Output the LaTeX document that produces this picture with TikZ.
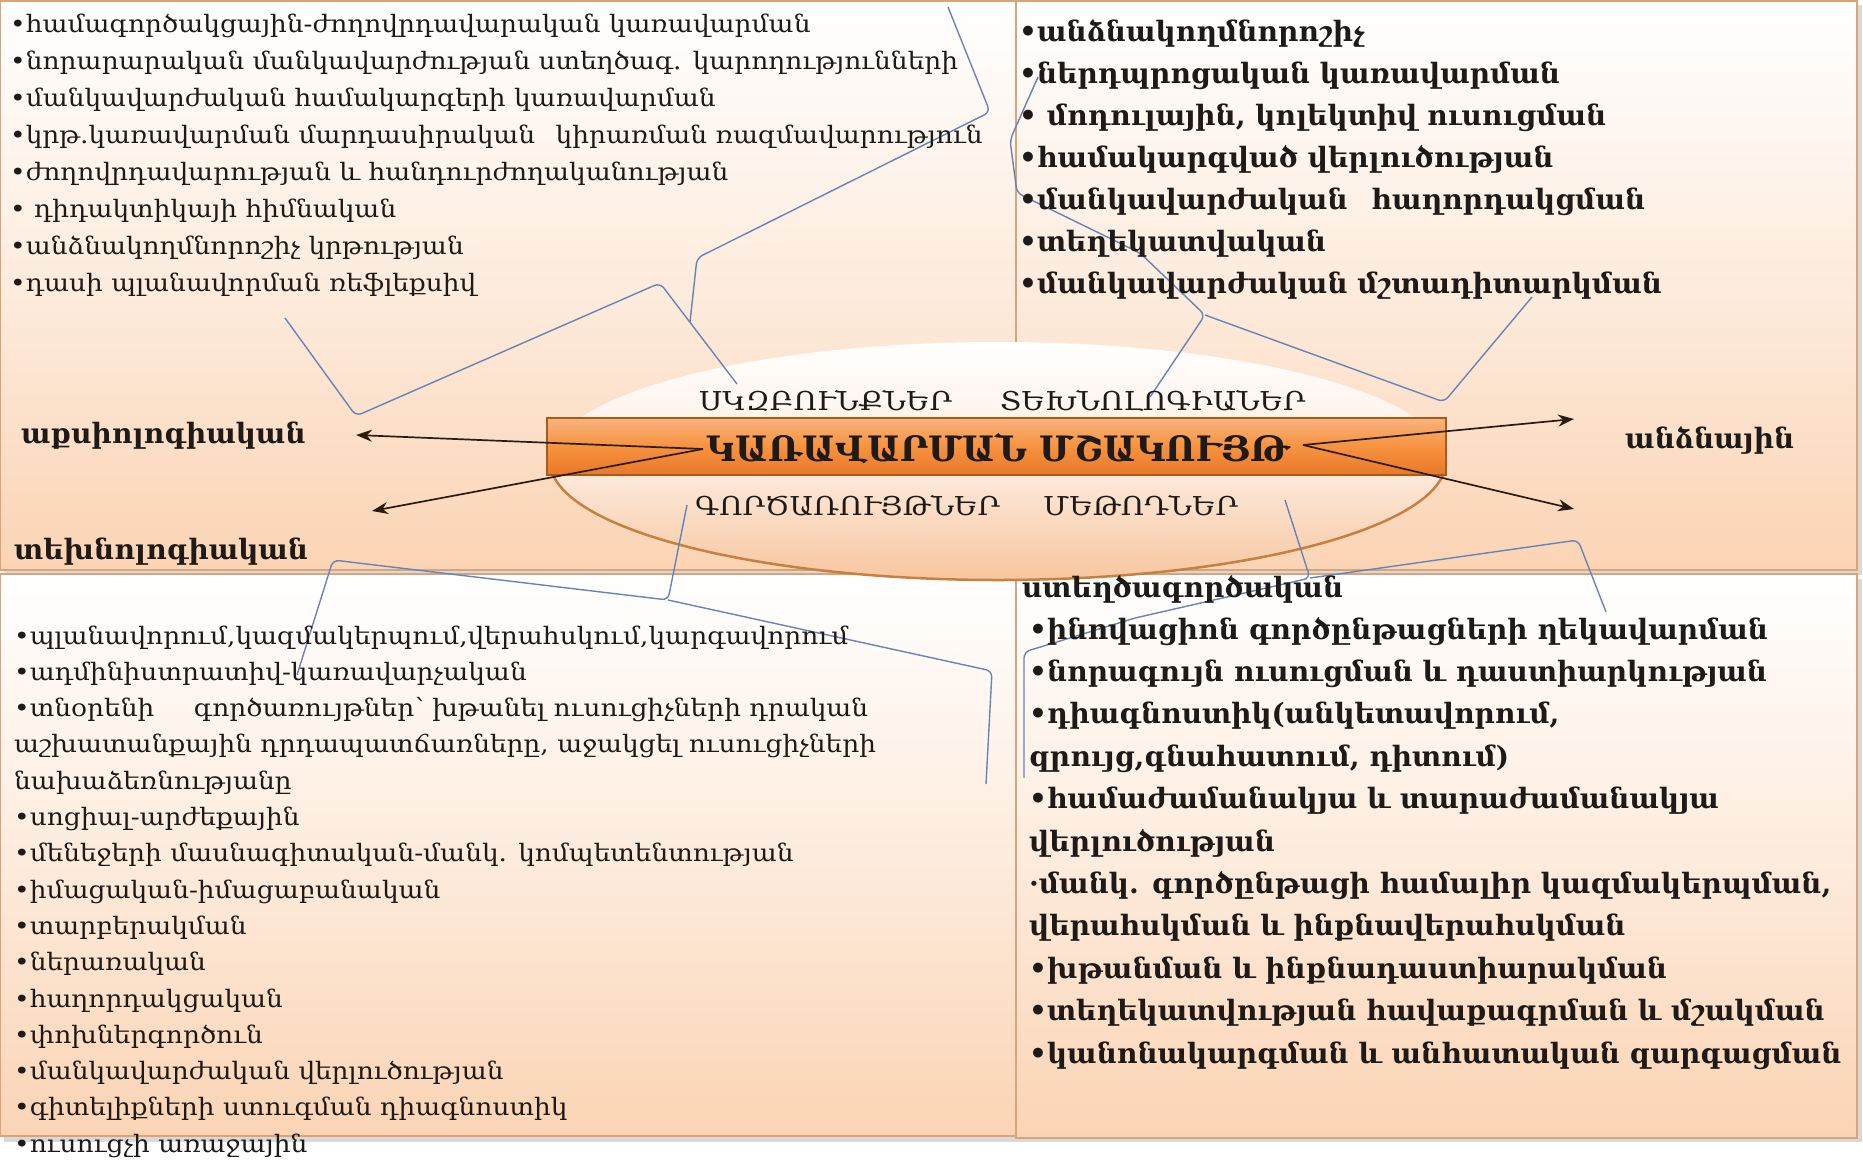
\documentclass[tikz,border=0pt]{standalone}
\usepackage{fontspec}
\setmainfont{DejaVu Serif}
\newfontfamily\armR[FakeStretch=1.10]{DejaVu Serif}
\newfontfamily\armC[FakeStretch=1.12]{DejaVu Serif}
\newfontfamily\armB{DejaVu Serif}
\usetikzlibrary{arrows.meta}
\definecolor{peach}{HTML}{FBD4B4}
\definecolor{peachd}{HTML}{F7C6A0}
\definecolor{boxline}{HTML}{D9A47A}
\definecolor{barline}{HTML}{A95B1A}
\definecolor{barA}{HTML}{F9B47E}
\definecolor{barB}{HTML}{F7923F}
\definecolor{barC}{HTML}{E8782A}
\definecolor{bluel}{HTML}{6585BA}
\definecolor{arrowc}{HTML}{2A1C12}
\definecolor{ellline}{HTML}{C7803F}
\definecolor{txtc}{HTML}{1E1A18}
\begin{document}
\begin{tikzpicture}[x=1pt,y=-1pt,
  box/.style={draw=boxline, line width=1.2pt},
  brace/.style={draw=bluel, line width=1.4pt, rounded corners=6pt},
  arr/.style={draw=arrowc, line width=1.7pt, -{Stealth[length=16pt,width=12pt]}},
  regtxt/.style={anchor=base west, inner sep=0pt, text=txtc, font=\armR\fontsize{24}{28}\selectfont},
  bldtxt/.style={anchor=base west, inner sep=0pt, text=txtc, font=\armB\bfseries\fontsize{28}{32}\selectfont},
  captxt/.style={anchor=base west, inner sep=0pt, text=txtc, font=\armC\fontsize{26}{30}\selectfont},
  titletxt/.style={anchor=base, inner sep=0pt, text=txtc, font=\armB\bfseries\fontsize{35}{38}\selectfont},
]
\useasboundingbox (0,0) rectangle (1863,1160);
\fill[white] (0,0) rectangle (1863,1160);

% shadows
\fill[black!15] (4,5) rectangle (1862,575);
\fill[black!15] (4,579) rectangle (1862,1142);
% boxes
\draw[box, top color=white, bottom color=peach, middle color=peach!45] (0,1) rectangle (1016,570);
\draw[box, top color=white, bottom color=peach, middle color=peach!45] (1016,1) rectangle (1857,570);
\draw[box, top color=white, bottom color=peach, middle color=peach!45] (0,574) rectangle (1016,1136);
\draw[box, top color=white, bottom color=peach, middle color=peach!45] (1016,574) rectangle (1857,1138);

% ellipse
\shade[top color=white, bottom color=peachd, middle color=white!60!peach] (998,461) ellipse [x radius=448pt, y radius=119pt];
\draw[ellline, line width=2.5pt] (550,461) arc[start angle=180, end angle=360, x radius=448pt, y radius=119pt];

% braces
\draw[brace] (285,318) -- (356,416) -- (660,283) -- (737,384);
\draw[brace] (690,322) -- (697,258) -- (990,112) -- (948,7);
\draw[brace] (1038,77) -- (1010,140) -- (1017,193) -- (1140,253) -- (1205,315) -- (1150,397);
\draw[brace] (1205,315) -- (1444,402) -- (1532,297);
\draw[brace] (297,675) -- (333,560) -- (668,600) -- (687,505);
\draw[brace] (668,600) -- (992,671) -- (986,784);
\draw[brace] (1024,778) -- (1024,652) -- (1135,618) -- (1310,578) -- (1285,500);
\draw[brace] (1310,578) -- (1578,540) -- (1606,612);

% bar
\draw[draw=barline, line width=1.5pt, top color=barA, bottom color=barC, middle color=barB] (547,418) rectangle (1446,475);

% arrows
\coordinate (lo) at (703,449);
\coordinate (ro) at (1303,445);
\coordinate (tipA) at (356,435);
\coordinate (tipB) at (372,511);
\coordinate (tipC) at (1574,419);
\coordinate (tipD) at (1574,509);
\draw[arr] (lo) -- (tipA);
\draw[arr] (lo) -- (tipB);
\draw[arr] (ro) -- (tipC);
\draw[arr] (ro) -- (tipD);

% centre texts
\node[titletxt] (title) at (998,461) {ԿԱՌԱՎԱՐՄԱՆ ՄՇԱԿՈՒՅԹ};
\node[captxt] (princ) at (699,410) {ՍԿԶԲՈՒՆՔՆԵՐ};
\node[captxt] (techn) at (1000,410) {ՏԵԽՆՈԼՈԳԻԱՆԵՐ};
\node[captxt] (func) at (695,515) {ԳՈՐԾԱՌՈՒՅԹՆԵՐ};
\node[captxt] (meth) at (1043,515) {ՄԵԹՈԴՆԵՐ};

% side labels
\node[bldtxt] (axio) at (21,443) {աքսիոլոգիական};
\node[bldtxt] (techl) at (14,559) {տեխնոլոգիական};
\node[bldtxt] (pers) at (1625,448) {անձնային};

% top-left block
\foreach \t [count=\i from 0] in {
{•համագործակցային-ժողովրդավարական կառավարման},
{•նորարարական մանկավարժության ստեղծագ. կարողությունների},
{•մանկավարժական համակարգերի կառավարման},
{•կրթ.կառավարման մարդասիրական\hspace{0.5em} կիրառման ռազմավարություն},
{•ժողովրդավարության և հանդուրժողականության},
{• դիդակտիկայի հիմնական},
{•անձնակողմնորոշիչ կրթության},
{•դասի պլանավորման ռեֆլեքսիվ}}
  \node[regtxt] (tl\i) at (10,{32+37*\i}) {\t};

% top-right block
\foreach \t [count=\i from 0] in {
{•անձնակողմնորոշիչ},
{•ներդպրոցական կառավարման},
{• մոդուլային, կոլեկտիվ ուսուցման},
{•համակարգված վերլուծության},
{•մանկավարժական\hspace{0.5em} հաղորդակցման},
{•տեղեկատվական},
{•մանկավարժական մշտադիտարկման}}
  \node[bldtxt] (tr\i) at (1019,{41+42*\i}) {\t};

% bottom-left block
\foreach \t [count=\i from 0] in {
{•պլանավորում,կազմակերպում,վերահսկում,կարգավորում},
{•ադմինիստրատիվ-կառավարչական},
{•տնօրենի\hspace{1.3em} գործառույթներ՝ խթանել ուսուցիչների դրական},
{աշխատանքային դրդապատճառները, աջակցել ուսուցիչների},
{նախաձեռնությանը},
{•սոցիալ-արժեքային},
{•մենեջերի մասնագիտական-մանկ. կոմպետենտության},
{•իմացական-իմացաբանական},
{•տարբերակման},
{•ներառական},
{•հաղորդակցական},
{•փոխներգործուն},
{•մանկավարժական վերլուծության},
{•գիտելիքների ստուգման դիագնոստիկ},
{•ուսուցչի առաջային}}
  \node[regtxt] (bl\i) at (14,{644+36.3*\i}) {\t};

% bottom-right block
\node[bldtxt] (creat) at (1022,597) {ստեղծագործական};
\foreach \t [count=\i from 0] in {
{•ինովացիոն գործընթացների ղեկավարման},
{•նորագույն ուսուցման և դաստիարկության},
{•դիագնոստիկ(անկետավորում,},
{զրույց,գնահատում, դիտում)},
{•համաժամանակյա և տարաժամանակյա},
{վերլուծության},
{·մանկ. գործընթացի համալիր կազմակերպման,},
{վերահսկման և ինքնավերահսկման},
{•խթանման և ինքնադաստիարակման},
{•տեղեկատվության հավաքագրման և մշակման},
{•կանոնակարգման և անհատական զարգացման}}
  \node[bldtxt] (br\i) at (1029,{639+42.4*\i}) {\t};
\end{tikzpicture}
\end{document}
